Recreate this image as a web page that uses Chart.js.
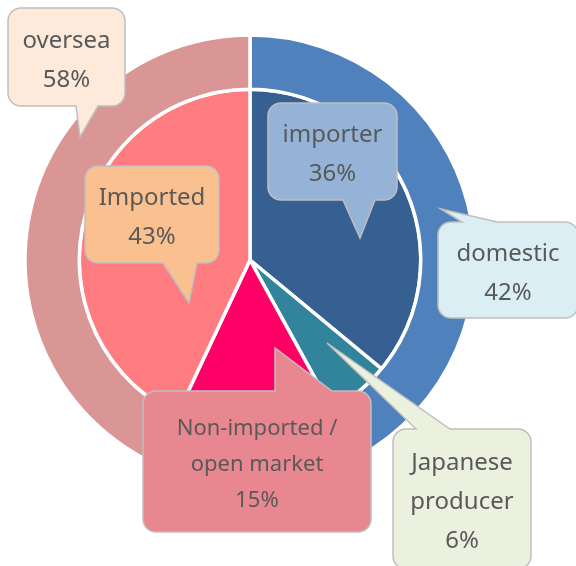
<!DOCTYPE html>
<html>
<head>
<meta charset="utf-8">
<script src="https://cdn.jsdelivr.net/npm/chart.js@4/dist/chart.umd.min.js"></script>
<style>
  html, body { margin: 0; padding: 0; background: #ffffff; }
  #wrap { width: 576px; height: 566px; }
  canvas { display: block; }
</style>
</head>
<body>
<div id="wrap"><canvas id="c" width="576" height="566"></canvas></div>
<script>
// ---- data ----
const outerLabels = ['domestic', 'oversea'];
const outerValues = [42, 58];
const innerLabels = ['importer', ['Japanese', 'producer'], ['Non-imported /', 'open market'], 'Imported'];
const innerValues = [36, 6, 15, 43];

// ---- styles ----
const outerColors = ['#4F81BD', '#D99694'];
const innerColors = ['#366092', '#31849B', '#FF0066', '#FF7C80'];

// callout layout (positions/styles only)
const outerCallouts = [
  { box: [438, 222, 140, 96], fill: '#DBEEF4', tail: { side: 'top', b1: 462, b2: 497, tip: [441, 209] }, font: 24 },
  { box: [8, 8, 117, 98], fill: '#FDEADA', tail: { side: 'bottom', b1: 76, b2: 98, tip: [80, 137] }, font: 24 }
];
const innerCallouts = [
  { box: [268, 103, 129, 97], fill: '#95B3D7', tail: { side: 'bottom', b1: 343, b2: 375, tip: [360, 238] }, font: 24 },
  { box: [393, 429, 138, 140], fill: '#EBF1DE', tail: { side: 'top', b1: 416, b2: 450, tip: [327, 343] }, font: 24 },
  { box: [143, 391, 228, 141], fill: '#E8878F', tail: { side: 'top', b1: 275, b2: 332, tip: [275, 348] }, font: 22 },
  { box: [85, 166, 134, 97], fill: '#FAC090', tail: { side: 'bottom', b1: 163, b2: 197, tip: [189, 303] }, font: 24 }
];

function calloutPath(ctx, c) {
  const [x, y, w, h] = c.box;
  const r = 13;
  const t = c.tail;
  ctx.beginPath();
  ctx.moveTo(x + r, y);
  if (t.side === 'top') {
    ctx.lineTo(t.b1, y);
    ctx.lineTo(t.tip[0], t.tip[1]);
    ctx.lineTo(t.b2, y);
  }
  ctx.lineTo(x + w - r, y);
  ctx.arcTo(x + w, y, x + w, y + r, r);
  ctx.lineTo(x + w, y + h - r);
  ctx.arcTo(x + w, y + h, x + w - r, y + h, r);
  if (t.side === 'bottom') {
    ctx.lineTo(t.b2, y + h);
    ctx.lineTo(t.tip[0], t.tip[1]);
    ctx.lineTo(t.b1, y + h);
  }
  ctx.lineTo(x + r, y + h);
  ctx.arcTo(x, y + h, x, y + h - r, r);
  ctx.lineTo(x, y + r);
  ctx.arcTo(x, y, x + r, y, r);
  ctx.closePath();
}

function drawCallout(ctx, c, label, value) {
  calloutPath(ctx, c);
  ctx.fillStyle = c.fill;
  ctx.fill();
  ctx.lineWidth = 1.5;
  ctx.strokeStyle = '#BFBFBF';
  ctx.stroke();
  const lines = (Array.isArray(label) ? label.slice() : [label]);
  lines.push(value + '%');
  const [x, y, w, h] = c.box;
  const lh = c.font * 1.63;
  const cx = x + w / 2;
  const cy = y + h / 2 + 3.5;
  ctx.font = c.font + 'px "Noto Sans"';
  ctx.fillStyle = '#595959';
  ctx.textAlign = 'center';
  ctx.textBaseline = 'middle';
  const start = cy - lh * (lines.length - 1) / 2;
  lines.forEach((ln, i) => ctx.fillText(ln, cx, start + i * lh));
}

const calloutPlugin = {
  id: 'callouts',
  afterDraw(chart) {
    const ctx = chart.ctx;
    ctx.save();
    drawCallout(ctx, outerCallouts[1], outerLabels[1], outerValues[1]);
    drawCallout(ctx, innerCallouts[0], innerLabels[0], innerValues[0]);
    drawCallout(ctx, innerCallouts[3], innerLabels[3], innerValues[3]);
    drawCallout(ctx, outerCallouts[0], outerLabels[0], outerValues[0]);
    drawCallout(ctx, innerCallouts[2], innerLabels[2], innerValues[2]);
    drawCallout(ctx, innerCallouts[1], innerLabels[1], innerValues[1]);
    ctx.restore();
  }
};

new Chart(document.getElementById('c'), {
  type: 'doughnut',
  data: {
    labels: innerLabels.map(l => Array.isArray(l) ? l.join(' ') : l),
    datasets: [
      { data: outerValues, backgroundColor: outerColors, borderColor: '#ffffff', borderWidth: 3.5, weight: 54, hoverOffset: 0 },
      { data: innerValues, backgroundColor: innerColors, borderColor: '#ffffff', borderWidth: 3.5, weight: 170, hoverOffset: 0 }
    ]
  },
  options: {
    responsive: false,
    animation: false,
    events: [],
    cutout: 0,
    radius: 225,
    layout: { padding: { left: 0, top: 0, right: 76, bottom: 46 } },
    plugins: { legend: { display: false }, tooltip: { enabled: false } }
  },
  plugins: [calloutPlugin]
});
</script>
</body>
</html>
